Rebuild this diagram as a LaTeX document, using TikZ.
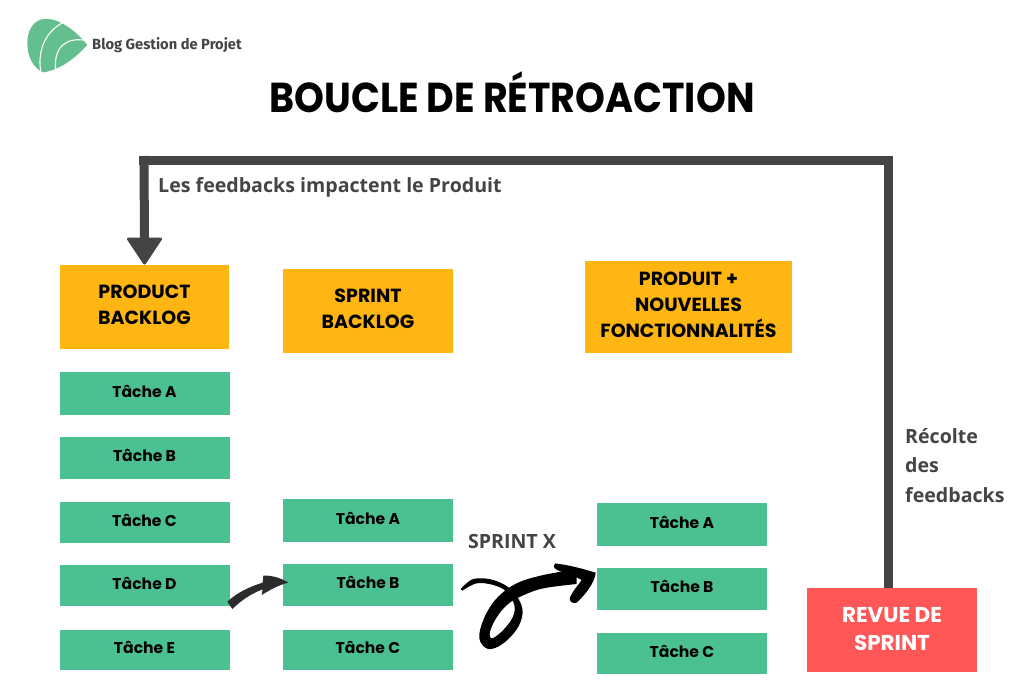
\documentclass[tikz,border=0pt]{standalone}
\usetikzlibrary{calc}
\usepackage{fontspec}
\setmainfont{Open Sans}
\newfontfamily\pop{Poppins}
\newfontfamily\fira{Fira Sans}
\definecolor{taskgreen}{HTML}{4BC192}
\definecolor{logogreen}{HTML}{64BF8E}
\definecolor{boxorange}{HTML}{FFB612}
\definecolor{boxred}{HTML}{FF5757}
\definecolor{greyink}{HTML}{444444}
\definecolor{darkink}{HTML}{2B2B2D}
\newcommand{\liftup}[2]{\raisebox{#1}{#2}}
\tikzset{
  boxbase/.style={inner sep=0pt,outer sep=0pt,align=center,text=black},
  taskbox/.style={boxbase,fill=taskgreen,minimum width=170pt,font=\pop\bfseries\fontsize{15.6}{18}\selectfont},
  headbox/.style={boxbase,fill=boxorange,font=\pop\bfseries\fontsize{19}{26}\selectfont},
  revuebox/.style={boxbase,fill=boxred,text=white,font=\pop\bfseries\fontsize{21.5}{28}\selectfont},
  greylabel/.style={inner sep=0pt,text=greyink,font=\bfseries\fontsize{19.6}{29.5}\selectfont,align=left},
  feedback/.style={draw=greyink,line width=9pt,line join=miter},
}
\begin{document}
\begin{tikzpicture}[x=1pt,y=-1pt]
\useasboundingbox (0,0) rectangle (1024,683);
% logo
\begin{scope}[scale=1/3]
\fill[logogreen] (130,57) .. controls (175,52) and (225,90) .. (262,135)
  .. controls (225,175) and (180,210) .. (130,217)
  .. controls (100,205) and (82,170) .. (82,130)
  .. controls (82,90) and (100,62) .. (130,57) -- cycle;
\draw[white,line width=1.1pt] (186,69) .. controls (140,95) and (112,145) .. (122,214);
\draw[white,line width=1.1pt] (256,121) .. controls (205,112) and (160,135) .. (167,209);
\end{scope}
\node[inner sep=0pt,anchor=west,text=greyink,font=\fira\fontsize{14.7}{18}\selectfont\bfseries] (blog) at (92,45) {Blog Gestion de Projet};
\node[inner sep=0pt,text=black,font=\pop\bfseries\fontsize{38}{44}\selectfont] (title) at (512,92) {\scalebox{1}[1.1]{BOUCLE DE RÉTROACTION}};
% header boxes
\node[headbox,minimum width=169pt,minimum height=84pt] (pb) at (144.5,307) {\liftup{4pt}{PRODUCT}\\\liftup{4pt}{BACKLOG}};
\node[headbox,minimum width=170pt,minimum height=84pt] (sb) at (368,311) {\liftup{4pt}{SPRINT}\\\liftup{4pt}{BACKLOG}};
\node[headbox,minimum width=207pt,minimum height=92pt] (pn) at (688.5,307) {\liftup{5pt}{PRODUIT +}\\\liftup{5pt}{NOUVELLES}\\\liftup{5pt}{FONCTIONNALITÉS}};
% tasks
\node[taskbox,minimum height=43pt] (a1) at (144.5,393.5) {\liftup{5pt}{Tâche A}};
\node[taskbox,minimum height=42pt] (b1) at (144.5,458) {\liftup{5pt}{Tâche B}};
\node[taskbox,minimum height=41pt] (c1) at (144.5,522.5) {\liftup{5pt}{Tâche C}};
\node[taskbox,minimum height=41pt] (d1) at (144.5,585.5) {\liftup{5pt}{Tâche D}};
\node[taskbox,minimum height=40pt] (e1) at (144.5,650) {\liftup{5pt}{Tâche E}};
\node[taskbox,minimum height=43pt] (a2) at (368,520.5) {\liftup{5pt}{Tâche A}};
\node[taskbox,minimum height=42pt] (b2) at (368,585) {\liftup{5pt}{Tâche B}};
\node[taskbox,minimum height=40pt] (c2) at (368,650) {\liftup{5pt}{Tâche C}};
\node[taskbox,minimum height=43pt] (a3) at (682,524.5) {\liftup{5pt}{Tâche A}};
\node[taskbox,minimum height=42pt] (b3) at (682,589) {\liftup{5pt}{Tâche B}};
\node[taskbox,minimum height=41pt] (c3) at (682,653.5) {\liftup{5pt}{Tâche C}};
\node[revuebox,minimum width=170pt,minimum height=84pt] (rv) at (892,630) {\liftup{3pt}{REVUE DE}\\\liftup{3pt}{SPRINT}};
% labels
\node[greylabel,anchor=west] (l1) at (158,187) {Les feedbacks impactent le Produit};
\node[greylabel,anchor=north west] (l2) at (905,428) {Récolte\\des\\feedbacks};
\node[greylabel] (l3) at (512,541) {SPRINT X};
% feedback loop
\coordinate (loopA) at ($(rv.north)+(-4,0)$);
\coordinate (loopB) at (pb.north);
\draw[feedback] (loopA) -- ++(0,-428) -- (139,160);
\draw[feedback,line cap=butt] (144,156) -- ($(loopB)+(0,-20)$);
\fill[greyink,draw=greyink,line width=3pt,line join=round] ($(loopB)+(-16,-26)$) -- ($(loopB)+(16,-26)$) -- ($(loopB)+(0,-2)$) -- cycle;
% small arrow
\begin{scope}[shift={(210,540)},scale=1/3]
\fill[darkink] (52,185) .. controls (85,155) and (120,140) .. (158,128)
  -- (160,107) .. controls (185,105) and (215,115) .. (235,128)
  .. controls (205,135) and (180,150) .. (155,165) -- (158,148)
  .. controls (125,160) and (95,180) .. (67,207) -- cycle;
% large arrow
\fill[black,nonzero rule] plot[smooth,tension=0.6] coordinates {(752,147) (790,117) (850,120) (905,150) (937,205) (925,260) (880,310) (835,327) (808,295) (822,235) (860,175) (920,130) (1000,105) (1100,88)}
  -- plot[smooth,tension=0.6] coordinates {(1100,132) (1000,145) (935,168) (893,193) (860,232) (840,275) (846,295) (878,272) (908,232) (913,195) (890,155) (850,135) (800,130) (757,152)} -- cycle;
\fill[black,line join=round] (1035,70) .. controls (1075,75) and (1115,85) .. (1157,98)
  .. controls (1155,125) and (1130,160) .. (1100,188) .. controls (1090,192) and (1075,185) .. (1080,172)
  .. controls (1090,150) and (1105,135) .. (1115,120) .. controls (1090,105) and (1060,100) .. (1038,88) .. controls (1030,82) and (1030,74) .. (1035,70) -- cycle;
\end{scope}
\end{tikzpicture}
\end{document}
